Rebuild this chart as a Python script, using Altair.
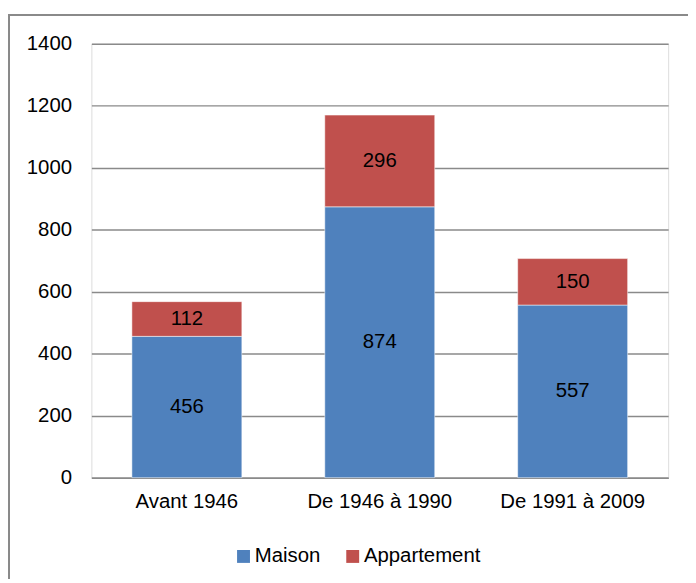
import altair as alt
import pandas as pd

periods = ["Avant 1946", "De 1946 à 1990", "De 1991 à 2009"]
maison = [456, 874, 557]
appartement = [112, 296, 150]
series = ["Maison", "Appartement"]
colors = ["#4F81BD", "#C0504D"]
y_ticks = [0, 200, 400, 600, 800, 1000, 1200, 1400]

rows = []
for p, m, a in zip(periods, maison, appartement):
    rows.append({"period": p, "type": "Maison", "value": m, "ord": 0})
    rows.append({"period": p, "type": "Appartement", "value": a, "ord": 1})
df = pd.DataFrame(rows)

FONT = "Liberation Sans"
FS = 20.5
W, H = 581, 437

x_enc = alt.X("period:N", sort=periods,
              scale=alt.Scale(paddingInner=0.43, paddingOuter=0.21),
              axis=alt.Axis(title=None, labelAngle=0, labelFontSize=FS, labelFont=FONT,
                            labelColor="#000000", labelPadding=14, ticks=False,
                            domainColor="#8a8a8a", domainWidth=1.5))

base = alt.Chart(df).transform_stack(
    stack="value", groupby=["period"], sort=[alt.SortField("ord")], as_=["y0", "y1"]
).transform_calculate(mid="(datum.y0 + datum.y1) / 2")

bars = base.mark_bar(stroke="white", strokeWidth=0.5).encode(
    x=x_enc,
    y=alt.Y("y0:Q", scale=alt.Scale(domain=[0, 1400]),
            axis=alt.Axis(title=None, values=y_ticks, format="d", labelFontSize=FS,
                          labelFont=FONT, labelColor="#000000", labelPadding=20,
                          ticks=False, domain=False,
                          gridColor="#8a8a8a", gridWidth=1.5)),
    y2="y1:Q",
    color=alt.Color("type:N", scale=alt.Scale(domain=series, range=colors),
                    legend=alt.Legend(title=None, orient="none", direction="horizontal",
                                      legendX=143, legendY=506, symbolType="square",
                                      symbolSize=169, symbolStrokeWidth=0,
                                      labelFontSize=FS, labelFont=FONT, labelColor="#000000",
                                      labelOffset=1, columnPadding=22)),
)

texts = base.mark_text(fontSize=FS, font=FONT, color="#000000").encode(
    x=alt.X("period:N", sort=periods),
    y=alt.Y("mid:Q"),
    text=alt.Text("value:Q"),
)

top_border = alt.Chart(df).mark_rule(color="#8a8a8a", strokeWidth=2).encode(
    x=alt.value(-84), x2=alt.value(W + 60), y=alt.value(-29)
)
left_border = alt.Chart(df).mark_rule(color="#8a8a8a", strokeWidth=2).encode(
    x=alt.value(-83), y=alt.value(-30), y2=alt.value(H + 120)
)

chart = alt.layer(bars, texts, top_border, left_border).properties(
    width=W, height=H,
    autosize=alt.AutoSizeParams(type="none"),
    padding={"left": 84, "top": 34, "right": 20, "bottom": 100},
).configure_view(stroke=None).configure(background="white")

chart.save("out.html", embed_options={"renderer": "svg", "actions": False})
